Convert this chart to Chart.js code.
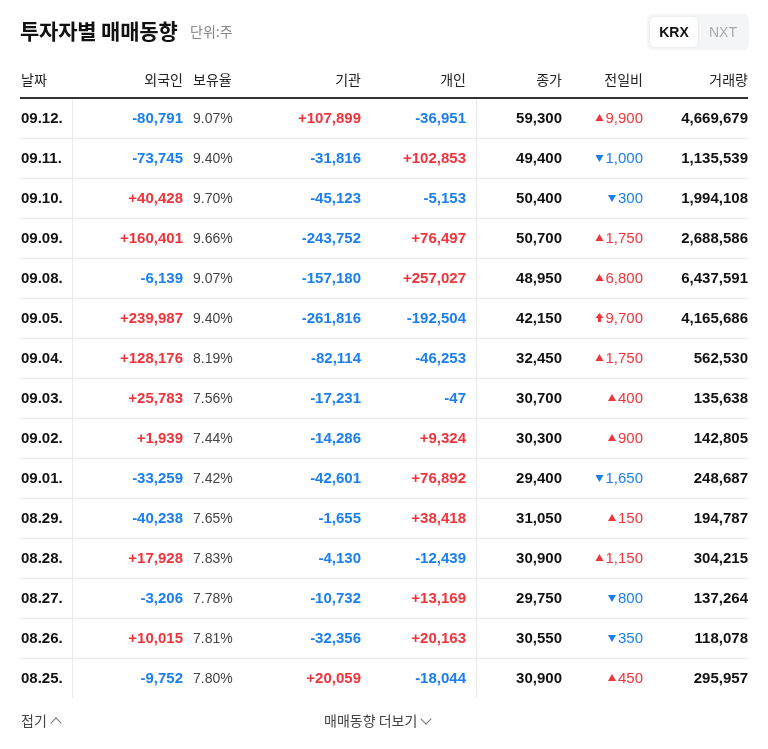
<!DOCTYPE html>
<html><head><meta charset="utf-8">
<script src="https://cdn.jsdelivr.net/npm/chart.js@4"></script>
<style>
body{margin:0;background:#fff;font-family:"Noto Sans CJK KR","Noto Sans",sans-serif;}
#wrap{position:relative;width:768px;height:749px;}
canvas{position:absolute;left:0;top:0;}
.t{position:absolute;white-space:nowrap;}
.chev{display:inline-block;width:7px;height:7px;border-left:1.3px solid #777;border-top:1.3px solid #777;margin-left:5px;}
</style></head><body>
<div id="wrap">
<canvas id="c" width="768" height="749"></canvas>
<div class="t" style="left:20px;top:15px;font-size:21px;font-weight:700;color:#111;letter-spacing:-0.2px">투자자별 매매동향</div>
<div class="t" style="left:190px;top:21px;font-size:14px;color:#888">단위:주</div>
<div class="t" style="left:647px;top:14px;width:102px;height:36px;background:#f4f5f7;border-radius:6px"></div>
<div class="t" style="left:650px;top:17px;width:48px;height:30px;background:#fff;border-radius:5px;box-shadow:0 0 2px rgba(0,0,0,0.1);font:700 14px 'Liberation Sans',Arial;color:#111;text-align:center;line-height:30px">KRX</div>
<div class="t" style="left:700px;top:17px;width:46px;height:30px;font:14px 'Liberation Sans',Arial;color:#aaa;text-align:center;line-height:30px">NXT</div>
<div class="t" style="left:21px;top:710px;font-size:14px;color:#444">접기<span class="chev" style="transform:translateY(1px) rotate(45deg)"></span></div>
<div class="t" style="left:324px;top:710px;font-size:14px;color:#444">매매동향 더보기<span class="chev" style="transform:translateY(-3px) rotate(225deg)"></span></div>
</div>
<script>
const headers=["날짜","외국인","보유율","기관","개인","종가","전일비","거래량"];
const dates=["09.12.","09.11.","09.10.","09.09.","09.08.","09.05.","09.04.","09.03.","09.02.","09.01.","08.29.","08.28.","08.27.","08.26.","08.25."];
const foreign=[-80791,-73745,40428,160401,-6139,239987,128176,25783,1939,-33259,-40238,17928,-3206,10015,-9752];
const ratio=["9.07%","9.40%","9.70%","9.66%","9.07%","9.40%","8.19%","7.56%","7.44%","7.42%","7.65%","7.83%","7.78%","7.81%","7.80%"];
const inst=[107899,-31816,-45123,-243752,-157180,-261816,-82114,-17231,-14286,-42601,-1655,-4130,-10732,-32356,20059];
const indiv=[-36951,102853,-5153,76497,257027,-192504,-46253,-47,9324,76892,38418,-12439,13169,20163,-18044];
const closep=[59300,49400,50400,50700,48950,42150,32450,30700,30300,29400,31050,30900,29750,30550,30900];
const change=[9900,-1000,-300,1750,6800,9700,1750,400,900,-1650,150,1150,-800,-350,450];
const upperLimit=[false,false,false,false,false,true,false,false,false,false,false,false,false,false,false];
const volume=[4669679,1135539,1994108,2688586,6437591,4165686,562530,135638,142805,248687,194787,304215,137264,118078,295957];

const RED="#f0343c",BLUE="#1b7ff0",DARK="#111";
const fmt=n=>Math.abs(n).toLocaleString("en-US");
const sgn=n=>(n>0?"+":"-")+fmt(n);
const colX={date:21,foreign:183,ratio:193,inst:361,indiv:466,close:562,change:643,volume:748};
const NUM="'Liberation Sans',Arial,sans-serif",KR="'Noto Sans CJK KR',sans-serif";

const tablePlugin={id:"table",afterDraw(ch){
  const c=ch.ctx,x=ch.scales.x,y=ch.scales.y,a=ch.chartArea;
  c.save();
  c.font="14px "+KR;c.fillStyle="#222";c.textBaseline="middle";
  const hy=80;
  const hd=[[0,"date","left"],[1,"foreign","right"],[2,"ratio","left"],[3,"inst","right"],[4,"indiv","right"],[5,"close","right"],[6,"change","right"],[7,"volume","right"]];
  hd.forEach(([i,k,al])=>{c.textAlign=al;c.fillText(headers[i],x.getPixelForValue(colX[k]),hy);});
  const rowH=(y.getPixelForValue(1)-y.getPixelForValue(0));
  c.strokeStyle="#ebebeb";c.lineWidth=1;
  for(let i=1;i<dates.length;i++){const yy=Math.round(y.getPixelForValue(i)-rowH/2)+0.5;c.beginPath();c.moveTo(x.getPixelForValue(20),yy);c.lineTo(x.getPixelForValue(748),yy);c.stroke();}
  [72,476].forEach(v=>{const xx=Math.round(x.getPixelForValue(v))+0.5;c.beginPath();c.moveTo(xx,a.top);c.lineTo(xx,a.bottom);c.stroke();});
  c.strokeStyle="#333";c.lineWidth=2;c.beginPath();c.moveTo(x.getPixelForValue(20),a.top);c.lineTo(x.getPixelForValue(748),a.top);c.stroke();
  dates.forEach((d,i)=>{
    const yy=y.getPixelForValue(i)+1;
    c.font="bold 15px "+NUM;c.textAlign="left";c.fillStyle=DARK;c.fillText(d,x.getPixelForValue(colX.date),yy);
    c.textAlign="right";
    [[foreign[i],"foreign"],[inst[i],"inst"],[indiv[i],"indiv"]].forEach(([v,k])=>{c.fillStyle=v>0?RED:BLUE;c.fillText(sgn(v),x.getPixelForValue(colX[k]),yy);});
    c.fillStyle=DARK;c.fillText(fmt(closep[i]),x.getPixelForValue(colX.close),yy);c.fillText(fmt(volume[i]),x.getPixelForValue(colX.volume),yy);
    c.font="14px "+NUM;c.textAlign="left";c.fillStyle="#444";c.fillText(ratio[i],x.getPixelForValue(colX.ratio),yy);
    c.font="15px "+NUM;
    const col=change[i]>0?RED:BLUE;c.fillStyle=col;c.textAlign="right";
    const txt=fmt(change[i]);const xr=x.getPixelForValue(colX.change);c.fillText(txt,xr,yy);
    const w=c.measureText(txt).width;const cx=xr-w-6,cy=yy-1;
    c.beginPath();
    if(upperLimit[i]){c.moveTo(cx,cy-5);c.lineTo(cx+4,cy);c.lineTo(cx+1.5,cy);c.lineTo(cx+1.5,cy+4);c.lineTo(cx-1.5,cy+4);c.lineTo(cx-1.5,cy);c.lineTo(cx-4,cy);}
    else if(change[i]>0){c.moveTo(cx,cy-4);c.lineTo(cx+4,cy+3);c.lineTo(cx-4,cy+3);}
    else {c.moveTo(cx-4,cy-3);c.lineTo(cx+4,cy-3);c.lineTo(cx,cy+4);}
    c.closePath();c.fill();
  });
  c.restore();
}};

new Chart(document.getElementById("c"),{
  type:"scatter",
  data:{labels:dates,datasets:[{data:dates.map((d,i)=>({x:colX.date,y:d})),pointRadius:0}]},
  options:{responsive:false,animation:false,events:[],
    layout:{padding:{top:98,bottom:51,left:0,right:0}},
    plugins:{legend:{display:false},tooltip:{enabled:false}},
    scales:{x:{type:"linear",min:0,max:768,display:false},
            y:{type:"category",labels:dates,offset:true,display:false}}},
  plugins:[tablePlugin]
});
</script></body></html>
